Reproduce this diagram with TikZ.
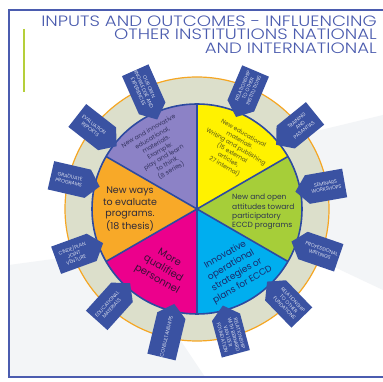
\documentclass[tikz,border=0pt]{standalone}
\usepackage{fontspec}
\setmainfont{Poppins}
\newfontfamily\titlefont{Poppins Light}
\usetikzlibrary{shapes.symbols}
\definecolor{titleblue}{HTML}{4A5BAE}
\definecolor{frameblue}{HTML}{4B5CAF}
\definecolor{framegreen}{HTML}{B5CF3A}
\definecolor{ringc}{HTML}{DCDFCB}
\definecolor{orangeline}{HTML}{F5A623}
\definecolor{pieline}{HTML}{2D4AA0}
\definecolor{purp}{HTML}{8C82C6}
\definecolor{yell}{HTML}{FFF200}
\definecolor{gree}{HTML}{A6CE39}
\definecolor{cyanc}{HTML}{00AEEF}
\definecolor{mag}{HTML}{EC008C}
\definecolor{oran}{HTML}{F8A928}
\definecolor{tagblue}{HTML}{3A52A2}
\definecolor{bggray}{HTML}{F3F5F7}
\definecolor{ptext}{HTML}{33325E}
\definecolor{ytext}{HTML}{55531A}
\definecolor{gtext}{HTML}{2C3550}
\definecolor{ctext}{HTML}{1B2A6A}
\definecolor{mtext}{HTML}{3A1038}
\definecolor{otext}{HTML}{2E2A3A}
\begin{document}
\begin{tikzpicture}[x=1pt,y=1pt,
  tag/.style={shape=signal, fill=tagblue, text=white, minimum width=50pt,
    minimum height=29pt, signal pointer angle=100, inner sep=0.3pt,
    align=center, font=\titlefont\fontsize{5}{5.9}\selectfont},
  titletext/.style={anchor=base east, inner sep=0pt, text=titleblue,
    font=\titlefont\fontsize{15}{15}\selectfont},
  segtext/.style={align=center, inner sep=0pt}]
\useasboundingbox (0,0) rectangle (383,382);
\fill[white] (0,0) rectangle (383,382);
% faint background shapes
\fill[bggray] (9,117) -- (120,132) -- (205,5) -- (9,5) -- cycle;
\fill[bggray] (300,247) -- (383,267) -- (383,92) -- (330,117) -- cycle;
% frame
\draw[frameblue, line width=1.2] (390,372) -- (9,372) -- (9,5) -- (390,5);
\draw[framegreen, line width=1.4] (24,353) -- (24,290);
% title
\node[titletext] (t1) at (377,355.3) {\scalebox{1.21}[1]{INPUTS AND OUTCOMES - INFLUENCING}};
\node[titletext] (t2) at (377,342) {\scalebox{1.21}[1]{OTHER INSTITUTIONS NATIONAL}};
\node[titletext] (t3) at (377,328) {\scalebox{1.21}[1]{AND INTERNATIONAL}};
% ring
\coordinate (C) at (197,173);
\fill[ringc] (C) circle (132);
\draw[orangeline, line width=1.2] (C) circle (132);
% pie
\fill[purp] (C) -- ++(90:105) arc[start angle=90, end angle=150, radius=105] -- cycle;
\fill[oran] (C) -- ++(150:105) arc[start angle=150, end angle=210, radius=105] -- cycle;
\fill[mag] (C) -- ++(210:105) arc[start angle=210, end angle=270, radius=105] -- cycle;
\fill[cyanc] (C) -- ++(270:105) arc[start angle=270, end angle=330, radius=105] -- cycle;
\fill[gree] (C) -- ++(-30:105) arc[start angle=-30, end angle=30, radius=105] -- cycle;
\fill[yell] (C) -- ++(30:105) arc[start angle=30, end angle=90, radius=105] -- cycle;
\draw[pieline, line width=1.6] (C) circle (105);
\draw[pieline, line width=1.6] ([shift={(90:105)}]C) -- ([shift={(270:105)}]C);
\draw[pieline, line width=1.6] ([shift={(30:105)}]C) -- ([shift={(210:105)}]C);
\draw[pieline, line width=1.6] ([shift={(150:105)}]C) -- ([shift={(330:105)}]C);
% segment texts
\node[segtext, rotate=30, text=ptext, font=\fontsize{6.2}{7.6}\selectfont] (sp) at (160,231)
  {New and innovative\\educational,\\materials.\\Example:\\play and learn\\to think.\\(8 series)};
\node[segtext, rotate=-30, text=ytext, font=\fontsize{6}{7.6}\selectfont] (sy) at (234,232)
  {New educational\\materials.\\Writing and publishing\\(15 external\\articles,\\27 internal)};
\node[segtext, align=left, anchor=west, text=gtext, font=\fontsize{7.5}{9.3}\selectfont] (sg) at (232,170)
  {New and open\\attitudes toward\\participatory\\ECCD programs};
\node[segtext, rotate=30, text=ctext, font=\fontsize{9}{11.5}\selectfont] (sc) at (234,112)
  {Innovative\\operational\\strategies or\\plans for ECCD};
\node[segtext, rotate=-30, text=mtext, font=\fontsize{10}{12.5}\selectfont] (sm) at (163,113)
  {More\\qualified\\personnel};
\node[segtext, text=otext, font=\fontsize{9.5}{11.4}\selectfont] (so) at (130,173)
  {New ways\\to evaluate\\programs.\\(18 thesis)};
% tags
\node[tag, rotate=-66, signal to=east] (g1) at ([shift={(114:131)}]C) {OUR OWN\\KNOWLEDGE AND\\EXPERIENCES};
\node[tag, rotate=67, signal to=west] (g2) at ([shift={(67:131)}]C) {RELATIONSHIP\\TO OTHER\\INSTITUTIONS};
\node[tag, rotate=39, signal to=west] (g3) at ([shift={(39:133)}]C) {TRAINING\\AND\\PASANTIAS};
\node[tag, rotate=10, signal to=west] (g4) at ([shift={(10:131)}]C) {SEMINARS\\WORKSHOPS};
\node[tag, rotate=-19, signal to=west] (g5) at ([shift={(-19:131)}]C) {PROFESSIONAL\\WRITINGS};
\node[tag, rotate=-46, signal to=west] (g6) at ([shift={(-46:132)}]C) {RELATIONSHIP\\TO OTHER\\FUNDATIONS};
\node[tag, rotate=-75, signal to=west] (g7) at ([shift={(-75:131)}]C) {RELATIONSHIP\\WITH BERNARD\\VAN LEER\\FOUNDATION};
\node[tag, rotate=76.5, signal to=east] (g8) at ([shift={(-103.5:131)}]C) {CONSULTANSHIPS};
\node[tag, rotate=48, signal to=east] (g9) at ([shift={(-132:131)}]C) {EDUCATIONAL\\MATERIALS};
\node[tag, rotate=20, signal to=east] (g10) at ([shift={(-160:131)}]C) {CINDE/PLAN\\JOINT\\VENTURE};
\node[tag, rotate=-13, signal to=east] (g11) at ([shift={(167:131)}]C) {GRADUATE\\PROGRAMS};
\node[tag, rotate=-38, signal to=east] (g12) at ([shift={(142:133)}]C) {EVALUATION\\REPORTS};
\end{tikzpicture}
\end{document}
